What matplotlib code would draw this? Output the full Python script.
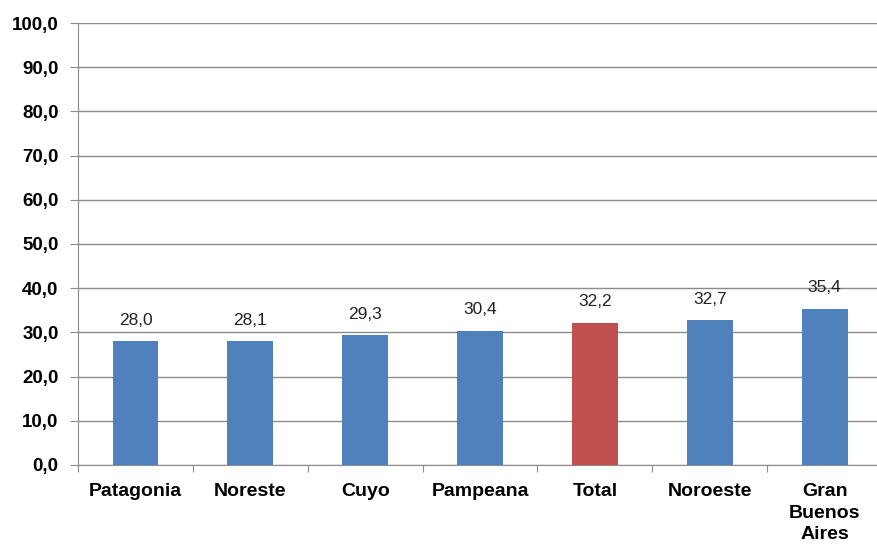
import matplotlib.pyplot as plt
import matplotlib

matplotlib.rcParams['font.family'] = ['Liberation Sans', 'DejaVu Sans']

# datos
regiones = ["Patagonia", "Noreste", "Cuyo", "Pampeana", "Total", "Noroeste", "Gran\nBuenos\nAires"]
valores = [28.0, 28.1, 29.3, 30.4, 32.2, 32.7, 35.4]
colores = ["#4F81BD", "#4F81BD", "#4F81BD", "#4F81BD", "#C0504D", "#4F81BD", "#4F81BD"]
yticks = [0, 10, 20, 30, 40, 50, 60, 70, 80, 90, 100]

fig = plt.figure(figsize=(8.77, 5.48), dpi=100)
ax = fig.add_axes([0.089, 0.1515, 0.9167, 0.8065])

x = range(len(regiones))
ax.bar(x, valores, width=0.40, color=colores, zorder=3)

for i, v in enumerate(valores):
    ax.text(i, v + 3.0, f"{v:.1f}".replace(".", ","), ha="center", va="bottom",
            fontsize=12.5, color="#222222")

ax.set_xlim(-0.5, len(regiones) - 0.5)
ax.set_ylim(0, 100)
ax.set_yticks(yticks)
ax.set_yticklabels([f"{t:.1f}".replace(".", ",") for t in yticks],
                   fontsize=13.5, fontweight="bold")
ax.yaxis.grid(True, color="#8c8c8c", linewidth=1)
ax.set_axisbelow(True)

# ticks entre categorias
ax.set_xticks([i + 0.5 for i in range(-1, len(regiones))], minor=False)
ax.set_xticklabels([])
ax.set_xticks(list(x), minor=True)
ax.set_xticklabels(regiones, minor=True, fontsize=14, fontweight="bold", va="top",
                   linespacing=1.35)
ax.tick_params(axis="x", which="major", length=5, color="#8c8c8c")
ax.tick_params(axis="x", which="minor", length=0, pad=13)
ax.tick_params(axis="y", length=6, color="#8c8c8c", pad=8)

for s in ["top", "right"]:
    ax.spines[s].set_visible(False)
ax.spines["left"].set_color("#8c8c8c")
ax.spines["bottom"].set_color("#8c8c8c")

plt.savefig("out.png", dpi=100)
